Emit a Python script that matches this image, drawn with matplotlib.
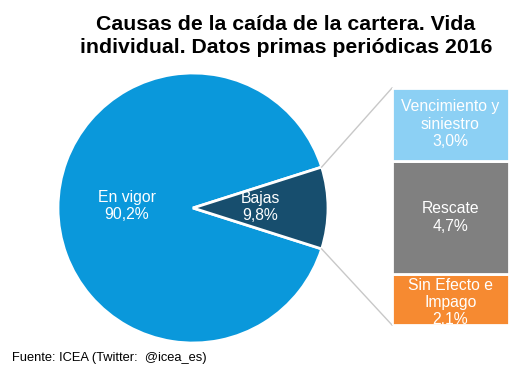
import matplotlib
matplotlib.use("Agg")
import matplotlib.pyplot as plt
import numpy as np

plt.rcParams['font.family'] = ['Liberation Sans', 'DejaVu Sans']

title = "Causas de la caída de la cartera. Vida\nindividual. Datos primas periódicas 2016"
pie_labels = ["En vigor", "Bajas"]
pie_values = [90.2, 9.8]
pie_colors = ["#0A98DB", "#174E6E"]

bar_labels = ["Sin Efecto e\nImpago", "Rescate", "Vencimiento y\nsiniestro"]
bar_values = [2.1, 4.7, 3.0]
bar_colors = ["#F68A31", "#808080", "#8CD0F4"]
source = "Fuente: ICEA (Twitter:  @icea_es)"

W, H = 521, 379
fig = plt.figure(figsize=(W / 100, H / 100), dpi=100)
ax = fig.add_axes([0, 0, 1, 1])

cx, cy, r = 193, H - 208, 135
half = pie_values[1] / 100 * 360 / 2
wedges, _ = ax.pie(pie_values, colors=pie_colors, startangle=half, counterclock=True,
                   center=(cx, cy), radius=r, frame=True,
                   wedgeprops=dict(edgecolor='white', linewidth=2))
ax.set_xlim(0, W)
ax.set_ylim(0, H)
ax.set_aspect('equal')
ax.axis('off')

def fmt(v):
    return f"{v:.1f}".replace('.', ',') + "%"

ax.text(127, H - 206, f"{pie_labels[0]}\n{fmt(pie_values[0])}", color='white',
        ha='center', va='center', fontsize=11.3, linespacing=1.15)
ax.text(260, H - 207, f"{pie_labels[1]}\n{fmt(pie_values[1])}", color='white',
        ha='center', va='center', fontsize=11.3, linespacing=1.15)

# bar axes
bx0, bx1 = 392, 509
by_top, by_bot = 88, 325
bax = fig.add_axes([bx0 / W, (H - by_bot) / H, (bx1 - bx0) / W, (by_bot - by_top) / H])
bax.set_xlim(-0.5, 0.5)
total = sum(bar_values)
bax.set_ylim(0, total)
bax.axis('off')
bottom = 0
offsets = [-0.12, 0, 0]
for lab, v, c, off in zip(bar_labels, bar_values, bar_colors, offsets):
    bax.bar(0, v, bottom=bottom, width=1.0, color=c, edgecolor='white', linewidth=2)
    bax.text(0, bottom + v / 2 + off, f"{lab}\n{fmt(v)}", color='white', ha='center', va='center',
             fontsize=11.3, linespacing=1.2, clip_on=True)
    bottom += v

# connector lines
th = np.radians(half)
p_top = (cx + r * np.cos(th), cy + r * np.sin(th))
p_bot = (cx + r * np.cos(th), cy - r * np.sin(th))
ax.plot([p_top[0], bx0], [p_top[1], H - by_top], color='#C8C8C8', lw=1)
ax.plot([p_bot[0], bx0], [p_bot[1], H - by_bot], color='#C8C8C8', lw=1)

fig.text(286 / W, 1 - 36 / H, title, ha='center', va='center', fontsize=15.3,
         fontweight='bold', linespacing=1.22)
fig.text(12 / W, 1 - 358 / H, source, ha='left', va='center', fontsize=9.3)

fig.savefig("out.png", dpi=100)
